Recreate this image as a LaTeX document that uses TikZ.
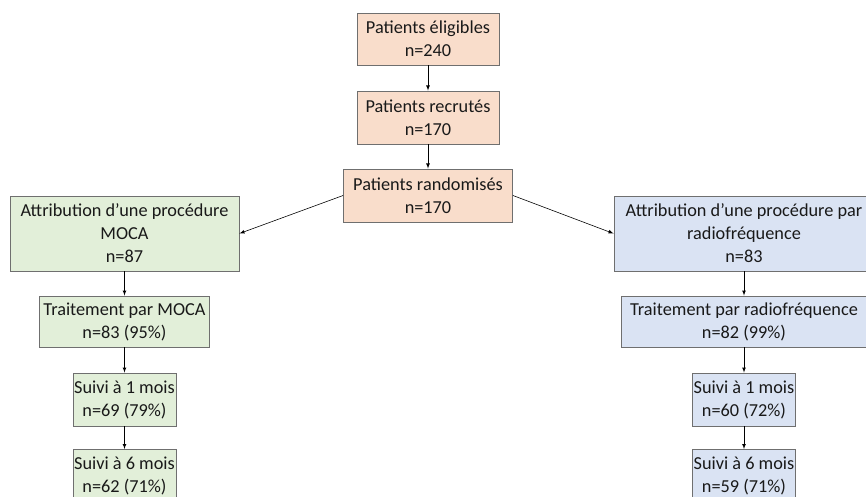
\documentclass[tikz,border=0pt]{standalone}
\usepackage{fontspec}
\setmainfont{Carlito}
\definecolor{saumon}{HTML}{F9DDCB}
\definecolor{vertclair}{HTML}{E2EFD9}
\definecolor{bleuclair}{HTML}{DAE3F3}
\definecolor{bord}{HTML}{6F6F6F}
\begin{document}
\begin{tikzpicture}[x=0.03cm,y=-0.03cm,
  boite/.style={draw=bord,line width=0.8pt,inner sep=0pt,align=center,
    font=\fontsize{15.6}{19.6}\selectfont,text=black!90},
  saumonbox/.style={boite,fill=saumon},
  vertbox/.style={boite,fill=vertclair},
  bleubox/.style={boite,fill=bleuclair},
  fleche/.style={-latex,line width=0.5pt,black}]
\useasboundingbox (0,0) rectangle (866,496);
% tronc commun
\node[saumonbox,minimum width=142*0.03cm,minimum height=52*0.03cm] (elig) at (428,39) {Patients éligibles\\n=240};
\node[saumonbox,minimum width=142*0.03cm,minimum height=53*0.03cm] (recr) at (428,117.5) {Patients recrutés\\n=170};
\node[saumonbox,minimum width=169*0.03cm,minimum height=53*0.03cm] (rand) at (428,195.5) {Patients randomisés\\n=170};
% bras MOCA
\node[vertbox,minimum width=229*0.03cm,minimum height=75*0.03cm] (mocaA) at (124.5,233.5) {Attribution d’une procédure\\MOCA\\n=87};
\node[vertbox,minimum width=170*0.03cm,minimum height=51*0.03cm] (mocaB) at (124.5,321.5) {Traitement par MOCA\\n=83 (95\%)};
\node[vertbox,minimum width=103*0.03cm,minimum height=53*0.03cm] (mocaC) at (124.5,399.5) {Suivi à 1 mois\\n=69 (79\%)};
\node[vertbox,minimum width=103*0.03cm,minimum height=53*0.03cm] (mocaD) at (124.5,476) {Suivi à 6 mois\\n=62 (71\%)};
% bras radiofrequence
\node[bleubox,minimum width=260*0.03cm,minimum height=75*0.03cm] (radioA) at (744,233.5) {Attribution d’une procédure par\\radiofréquence\\n=83};
\node[bleubox,minimum width=246*0.03cm,minimum height=51*0.03cm] (radioB) at (744,321.5) {Traitement par radiofréquence\\n=82 (99\%)};
\node[bleubox,minimum width=103*0.03cm,minimum height=53*0.03cm] (radioC) at (744,399.5) {Suivi à 1 mois\\n=60 (72\%)};
\node[bleubox,minimum width=103*0.03cm,minimum height=53*0.03cm] (radioD) at (744,476) {Suivi à 6 mois\\n=59 (71\%)};
% fleches
\draw[fleche] (elig) -- (recr);
\draw[fleche] (recr) -- (rand);
\draw[fleche] (rand.west) -- (mocaA.east);
\draw[fleche] (rand.east) -- (radioA.west);
\foreach \bras in {moca,radio}
{
\draw[fleche] (\bras A) -- (\bras B);
\draw[fleche] (\bras B) -- (\bras C);
\draw[fleche] (\bras C) -- (\bras D);
}
\end{tikzpicture}
\end{document}
